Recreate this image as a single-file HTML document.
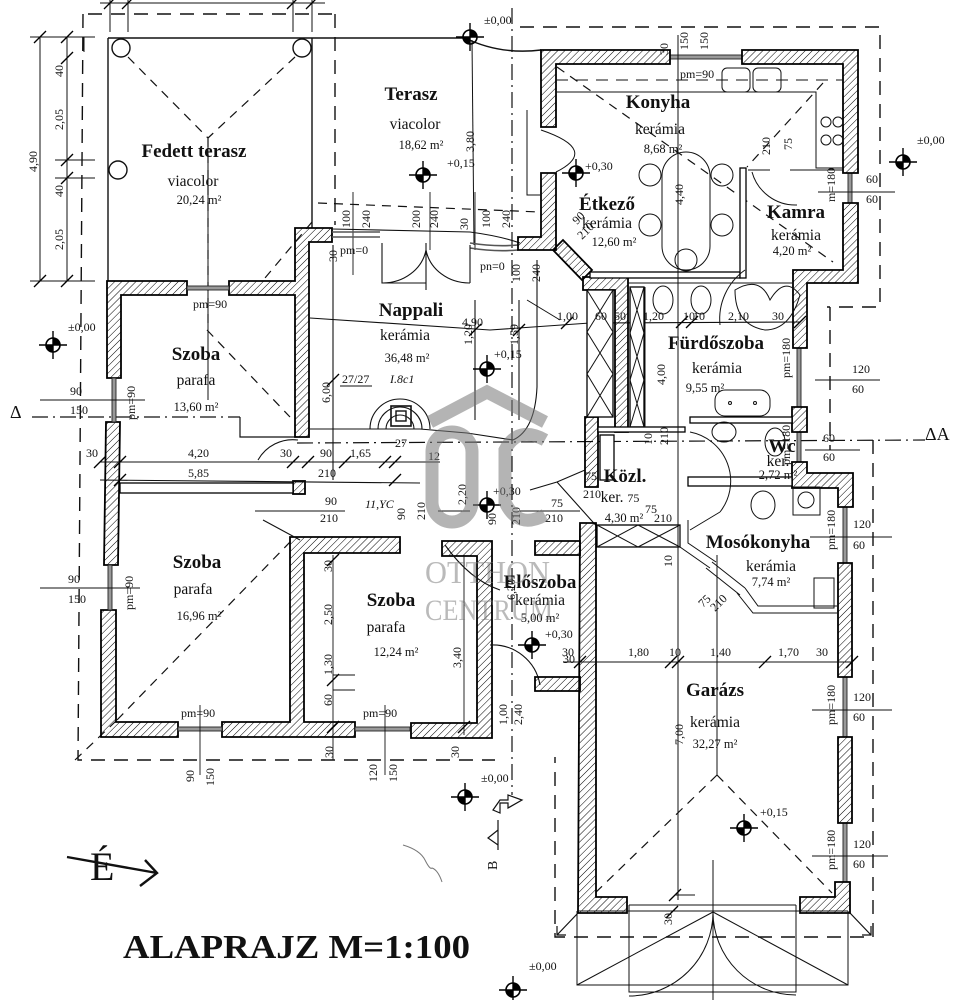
<!DOCTYPE html>
<html><head><meta charset="utf-8"><style>
html,body{margin:0;padding:0;background:#fff;}
svg{display:block;}
text{font-family:"Liberation Serif",serif;fill:#111;}
.rn{font-weight:bold;font-size:19px;text-anchor:middle;}
.mt{font-size:15.5px;text-anchor:middle;}
.ar{font-size:12.5px;text-anchor:middle;}
.d{font-size:12px;}
.dm{font-size:12px;text-anchor:middle;}
</style></head><body>
<svg width="972" height="1000" viewBox="0 0 972 1000" xmlns="http://www.w3.org/2000/svg">
<defs>
<pattern id="h" width="5" height="5" patternUnits="userSpaceOnUse" patternTransform="rotate(45)"><line x1="0" y1="0" x2="0" y2="5" stroke="#000" stroke-width="1"/></pattern>
<g id="em"><circle r="7" fill="none" stroke="#000" stroke-width="1.6"/><path d="M0,0 L0,-7 A7,7 0 0 1 7,0 Z M0,0 L0,7 A7,7 0 0 1 -7,0 Z" fill="#000"/><line x1="-14" y1="0" x2="14" y2="0" stroke="#000" stroke-width="1.4"/><line x1="0" y1="-14" x2="0" y2="14" stroke="#000" stroke-width="1.4"/></g>
<path id="tk" d="M-6,6 L6,-6" stroke="#000" stroke-width="1.3"/>
</defs>
<rect width="972" height="1000" fill="#fff"/>

<!-- dashed outlines -->
<g fill="none" stroke="#111" stroke-width="1.4" stroke-dasharray="14,9">
<path d="M88,14 L335,14 M83,14 L78,760 L495,760 M335,14 L335,225"/>
<path d="M520,27 L880,27 L880,307 L827,307 M830,307 L830,450 M873,440 L873,937 L555,937 L555,757"/>
</g>
<g fill="none" stroke="#111" stroke-width="1.2">
<path d="M578,913 L557,935 M557,926 L557,935 L566,935 M850,913 L871,935 M871,926 L871,935 L862,935"/>
</g>
<!-- dash-dot axes -->
<g fill="none" stroke="#111" stroke-width="1.2" stroke-dasharray="16,5,2,5">
<path d="M32,417 L240,417 M297,443 L925,440"/>
<path d="M512,8 L512,795"/>
</g>
<path d="M240,417 L240,437 L297,437" fill="none" stroke="#111" stroke-width="1.2"/>

<!-- top dim lines -->
<g stroke="#111" stroke-width="1" fill="none">
<path d="M100,3 L325,3 M110,0 L110,32 M128,0 L128,32 M293,0 L293,32 M312,0 L312,32"/>
<path d="M30,37 L95,37 M40,37 L40,281 M67,37 L67,281 M55,160 L95,160 M55,178 L95,178 M30,281 L95,281 M84,37 L84,52"/>
</g>
<use href="#tk" x="40" y="37"/><use href="#tk" x="67" y="37"/><use href="#tk" x="67" y="58"/><use href="#tk" x="67" y="160"/><use href="#tk" x="67" y="178"/><use href="#tk" x="40" y="281"/><use href="#tk" x="67" y="281"/>
<use href="#tk" x="110" y="3"/><use href="#tk" x="128" y="3"/><use href="#tk" x="293" y="3"/><use href="#tk" x="312" y="3"/>
<text class="d" transform="translate(37,172) rotate(-90)">4,90</text>
<text class="d" transform="translate(63,77) rotate(-90)">40</text>
<text class="d" transform="translate(63,130) rotate(-90)">2,05</text>
<text class="d" transform="translate(63,197) rotate(-90)">40</text>
<text class="d" transform="translate(63,250) rotate(-90)">2,05</text>

<!-- Fedett terasz -->
<g fill="none" stroke="#111" stroke-width="1.4">
<path d="M108,38 L465,38 Q500,55 541,50 M108,38 L108,281 M312,38 L312,228"/>
<circle cx="121" cy="48" r="9"/><circle cx="302" cy="48" r="9"/><circle cx="118" cy="170" r="9"/>
<path d="M472,40 L474,245" stroke-width="1"/>
</g>
<g fill="none" stroke="#111" stroke-width="1.2" stroke-dasharray="9,7">
<path d="M128,57 L208,138 L295,57 M208,138 L208,330 M312,222 L265,278 M207,330 L290,417"/>
<path d="M117,720 L292,540 M75,760 L117,720"/>
<path d="M557,67 L833,262 M823,83 L747,167"/>
<path d="M717,775 L593,895 M717,775 L832,893"/>
<path d="M318,203 L540,212"/>
</g>
<path d="M208,330 L208,400 M208,140 L208,330" stroke="#111" stroke-width="1"/>

<!-- Terasz labels -->
<text class="rn" x="194" y="157">Fedett terasz</text>
<text class="mt" x="193" y="186">viacolor</text>
<text class="ar" x="199" y="204">20,24 m²</text>
<text class="rn" x="411" y="100">Terasz</text>
<text class="mt" x="415" y="129">viacolor</text>
<text class="ar" x="421" y="149">18,62 m²</text>
<text class="d" x="447" y="167">+0,15</text>
<text class="d" transform="translate(474,152) rotate(-90)" fill="#444">3,80</text>

<!-- short vertical dims above nappali -->
<g class="d">
<text transform="translate(350,228) rotate(-90)">100</text><text transform="translate(370,228) rotate(-90)">240</text>
<text transform="translate(420,228) rotate(-90)">200</text><text transform="translate(438,228) rotate(-90)">240</text>
<text transform="translate(468,230) rotate(-90)">30</text><text transform="translate(490,228) rotate(-90)">100</text><text transform="translate(510,228) rotate(-90)">240</text>
<text transform="translate(337,262) rotate(-90)">30</text>
<text x="340" y="254">pm=0</text><text x="480" y="270">pn=0</text>
<text x="193" y="308">pm=90</text>
</g>
<path d="M353,192 L353,275 M430,192 L430,250 M475,192 L475,250" stroke="#111" stroke-width="0.9"/>

<!-- Walls left -->
<g fill="url(#h)" stroke="#000" stroke-width="1.8" stroke-linejoin="miter">
<path d="M107,281 L187,281 L187,295 L121,295 L121,378 L107,378 Z"/>
<path d="M229,281 L295,281 L295,228 L332,228 L332,242 L309,242 L309,437 L295,437 L295,295 L229,295 Z"/>
<path d="M106,422 L120,422 L118,565 L104,565 Z"/>
<path d="M101,610 L116,610 L116,722 L178,722 L178,737 L101,737 Z"/>
<path d="M222,722 L290,722 L290,537 L400,537 L400,553 L304,553 L304,722 L355,722 L355,737 L222,737 Z"/>
<path d="M442,541 L492,541 L492,738 L411,738 L411,723 L477,723 L477,556 L442,556 Z"/>
<rect x="293" y="481" width="12" height="13"/>
</g>
<rect x="120" y="483" width="173" height="10" fill="#fff" stroke="#000" stroke-width="1.3"/>
<!-- windows -->
<g fill="#999" stroke="#222" stroke-width="0.9">
<rect x="187" y="286" width="42" height="4"/><rect x="112" y="378" width="4" height="44"/>
<rect x="108" y="565" width="4" height="45"/><rect x="178" y="727" width="44" height="4"/>
<rect x="355" y="727" width="55" height="4"/>
<rect x="670" y="55" width="72" height="4"/><rect x="848" y="173" width="4" height="30"/>
<rect x="797" y="348" width="4" height="59"/><rect x="797" y="432" width="4" height="30"/>
<rect x="843" y="507" width="4" height="56"/><rect x="843" y="677" width="4" height="60"/><rect x="843" y="823" width="4" height="59"/>
</g>
<path d="M332,232 L380,232 M332,237 L380,237 M470,243 Q495,247 518,245 M470,248 Q495,252 518,250" stroke="#555" stroke-width="1.6" fill="none"/>

<!-- Nappali details -->
<g fill="none" stroke="#111" stroke-width="1.1">
<path d="M332,229 L470,232 Q500,236 520,243"/>
<path d="M382,243 L382,283 L426,283 M426,243 L426,290 M426,250 A44,40 0 0 1 382,283 M426,250 A44,40 0 0 0 470,283 M470,245 L470,283"/>
<path d="M537,260 L537,387 Q535,430 513,440"/>
<path d="M310,318 L490,330 L590,323 L800,322"/>
<path d="M310,429 L420,429 L467,433 L513,440"/>
<path d="M333,245 L333,480 M475,300 L475,420 M519,300 L519,420"/>
<path d="M100,462 L440,462 M100,480 L420,483"/>
<path d="M340,386 L372,386"/>
<path d="M370,429 A30,30 0 0 1 430,429 M378,429 A22,22 0 0 1 422,429 M386,429 A14,14 0 0 1 414,429"/>
<rect x="391" y="406" width="20" height="20" stroke-width="1.6"/><rect x="396" y="411" width="10" height="10" stroke-width="1.4"/>
<path d="M258,460 A40,40 0 0 1 298,440 M263,520 L300,540"/>
<path d="M445,545 Q470,580 500,590 M490,645 A48,48 0 0 1 540,685"/>
<path d="M530,490 L557,482 L585,470 M557,482 L600,530"/>
</g>
<use href="#tk" x="333" y="380"/><use href="#tk" x="475" y="330"/><use href="#tk" x="519" y="330"/>
<use href="#tk" x="100" y="462"/><use href="#tk" x="120" y="462"/><use href="#tk" x="293" y="462"/><use href="#tk" x="308" y="462"/><use href="#tk" x="345" y="462"/><use href="#tk" x="385" y="462"/><use href="#tk" x="395" y="462"/><use href="#tk" x="120" y="480"/><use href="#tk" x="395" y="480"/>
<text class="rn" x="411" y="316">Nappali</text>
<text class="mt" x="405" y="340">kerámia</text>
<text class="ar" x="407" y="362">36,48 m²</text>
<text class="d" x="462" y="326">4,90</text>
<text class="d" x="342" y="383">27/27</text>
<text class="d" x="390" y="383" fill="#444" font-style="italic">I.8c1</text>
<text class="d" transform="translate(330,403) rotate(-90)">6,00</text>
<text class="d" transform="translate(472,345) rotate(-90)">1,20</text>
<text class="d" transform="translate(518,345) rotate(-90)">1,59</text>
<text class="d" x="494" y="358">+0,15</text>
<g class="d">
<text x="86" y="457">30</text><text x="188" y="457">4,20</text><text x="280" y="457">30</text><text x="320" y="457">90</text><text x="350" y="457">1,65</text><text x="428" y="460">12</text><text x="395" y="447">27</text>
<text x="188" y="477">5,85</text><text x="318" y="477">210</text>
<text x="325" y="505">90</text><text x="320" y="522">210</text>
<text x="365" y="508" fill="#444" font-style="italic">11,YC</text>
<text transform="translate(405,520) rotate(-90)">90</text><text transform="translate(425,520) rotate(-90)">210</text>
<text transform="translate(466,505) rotate(-90)">2,20</text><text transform="translate(496,525) rotate(-90)">90</text><text transform="translate(520,525) rotate(-90)">210</text>
<text x="493" y="495">+0,30</text>
<text x="551" y="507">75</text><text x="545" y="522">210</text>
</g>
<path d="M40,400 L145,400 M40,588 L140,588 M255,511 L345,511 M438,511 L470,511 M520,511 L580,511" stroke="#111" stroke-width="0.9"/>

<!-- left annotations -->
<g class="d">
<text x="68" y="331">±0,00</text>
<text x="70" y="395">90</text><text x="70" y="414">150</text>
<text transform="translate(135,420) rotate(-90)">pm=90</text>
<text x="68" y="583">90</text><text x="68" y="603">150</text>
<text transform="translate(133,610) rotate(-90)">pm=90</text>
<text x="181" y="717">pm=90</text><text x="363" y="717">pm=90</text>
<text transform="translate(194,782) rotate(-90)">90</text><text transform="translate(214,786) rotate(-90)">150</text>
<text transform="translate(333,758) rotate(-90)">30</text>
<text transform="translate(377,782) rotate(-90)">120</text><text transform="translate(397,782) rotate(-90)">150</text>
<text transform="translate(459,758) rotate(-90)">30</text>
<text transform="translate(332,572) rotate(-90)">30</text>
<text transform="translate(332,625) rotate(-90)">2,50</text>
<text transform="translate(332,675) rotate(-90)">1,30</text>
<text transform="translate(332,706) rotate(-90)">60</text>
<text transform="translate(461,668) rotate(-90)">3,40</text>
</g>
<path d="M200,705 L200,775 M385,705 L385,775 M333,555 L333,760 M464,555 L464,735 M333,675 L355,675 M333,690 L355,690" stroke="#111" stroke-width="0.9"/>
<use href="#tk" x="333" y="560"/><use href="#tk" x="333" y="680"/><use href="#tk" x="333" y="727"/><use href="#tk" x="464" y="727"/>
<text x="10" y="418" font-size="18">Δ</text>

<!-- left rooms labels -->
<text class="rn" x="196" y="360">Szoba</text>
<text class="mt" x="196" y="385">parafa</text>
<text class="ar" x="196" y="411">13,60 m²</text>
<text class="rn" x="197" y="568">Szoba</text>
<text class="mt" x="193" y="594">parafa</text>
<text class="ar" x="199" y="620">16,96 m²</text>
<text class="rn" x="391" y="606">Szoba</text>
<text class="mt" x="386" y="632">parafa</text>
<text class="ar" x="396" y="656">12,24 m²</text>

<!-- Right block walls -->
<g fill="url(#h)" stroke="#000" stroke-width="1.8">
<path d="M541,50 L670,50 L670,64 L556,64 L556,127 L541,127 Z"/>
<path d="M742,50 L858,50 L858,173 L843,173 L843,64 L742,64 Z"/>
<path d="M843,203 L858,203 L858,283 L807,283 L807,348 L793,348 L793,270 L843,270 Z"/>
<path d="M541,173 L556,173 L556,250 L518,250 L518,237 L541,237 Z"/>
<path d="M583,277 L628,277 L628,432 L615,432 L615,290 L583,290 Z"/>
<path d="M585,417 L598,417 L598,487 L585,487 Z"/>
<path d="M580,523 L596,523 L596,897 L627,897 L627,913 L578,913 Z"/>
<path d="M535,541 L580,541 L580,555 L535,555 Z"/>
<path d="M535,677 L580,677 L580,691 L535,691 Z"/>
<path d="M835,882 L850,882 L850,913 L800,913 L800,897 L835,897 Z"/>
<path d="M838,737 L852,737 L852,823 L838,823 Z"/>
<path d="M838,563 L852,563 L852,677 L838,677 Z"/>
<path d="M792,462 L807,462 L807,473 L853,473 L853,507 L838,507 L838,488 L792,488 Z"/>
<path d="M792,407 L807,407 L807,432 L792,432 Z"/>
<path d="M553,250 L563,240 L592,270 L582,280 Z"/>
</g>
<g fill="#fff" stroke="#000" stroke-width="1.3">
<rect x="590" y="272" width="150" height="6"/>
<rect x="740" y="168" width="6" height="110"/>
<rect x="690" y="417" width="102" height="6"/>
<rect x="688" y="477" width="104" height="9"/>
<rect x="587" y="290" width="26" height="127"/>
<rect x="630" y="287" width="14" height="140"/>
<rect x="598" y="427" width="87" height="5"/>
<rect x="597" y="525" width="83" height="22"/>
<rect x="600" y="435" width="14" height="45"/>
</g>
<g stroke="#111" stroke-width="1" fill="none">
<path d="M587,290 L613,332 M613,290 L587,332 M587,332 L613,374 M613,332 L587,374 M587,374 L613,417 M613,374 L587,417"/>
<path d="M630,287 L644,333 M644,287 L630,333 M630,333 L644,380 M644,333 L630,380 M630,380 L644,427 M644,380 L630,427"/>
<path d="M597,525 L638,547 M638,525 L597,547 M638,525 L680,547 M680,525 L638,547"/>
<path d="M645,287 L645,427 M628,283 L793,283"/>
<path d="M680,525 L680,547 L710,568 M688,520 L688,543 L716,562 M737,593 L753,613 L837,613 M745,588 L758,606 L837,606"/>
<path d="M706,568 L740,595 M712,562 L745,588"/>
<path d="M541,130 Q600,150 556,172 M527,110 L527,195 L541,195"/>
<path d="M556,80 L843,80" stroke-dasharray="12,8"/>
<path d="M556,92 L816,92 L816,168 L843,168 M748,170 L770,170 M790,170 L843,170 M752,172 A45,45 0 0 0 797,205"/>
<rect x="722" y="68" width="28" height="24" rx="5"/><rect x="753" y="68" width="28" height="24" rx="5"/>
<circle cx="826" cy="122" r="5"/><circle cx="838" cy="122" r="5"/><circle cx="826" cy="140" r="5"/><circle cx="838" cy="140" r="5"/>
<rect x="662" y="152" width="48" height="118" rx="24"/>
<circle cx="650" cy="175" r="11"/><circle cx="722" cy="175" r="11"/><circle cx="650" cy="225" r="11"/><circle cx="722" cy="225" r="11"/><circle cx="686" cy="260" r="11"/>
<ellipse cx="663" cy="300" rx="10" ry="14"/><ellipse cx="701" cy="300" rx="10" ry="14"/>
<path d="M735,290 Q760,275 770,300 Q785,275 800,295 Q790,330 765,330 Q735,325 735,290 Z"/>
<path d="M720,325 A60,60 0 0 1 745,270"/>
<rect x="715" y="390" width="55" height="26" rx="10"/><circle cx="730" cy="403" r="1.5"/><circle cx="755" cy="403" r="1.5"/>
<ellipse cx="724" cy="432" rx="12" ry="10"/><ellipse cx="775" cy="442" rx="10" ry="14"/>
<ellipse cx="763" cy="505" rx="12" ry="14"/>
<rect x="793" y="487" width="27" height="28"/><circle cx="806" cy="500" r="8"/>
<rect x="814" y="578" width="20" height="30"/>
<path d="M690,432 A50,50 0 0 1 720,512 M690,530 L720,512"/>
<path d="M678,35 L678,900 M717,555 L717,775"/>
<path d="M563,662 L852,662"/>
<!-- garage door -->
<path d="M577,911 L577,985 L848,985 L848,911 M577,911 L848,911"/>
<path d="M629,905 L629,992 L796,992 L796,905 M629,905 L796,905"/>
<path d="M713,860 L713,1000"/>
<path d="M713,912 L577,985 M713,912 L848,985"/>
<path d="M713,912 A84,84 0 0 1 629,996 M713,912 A83,83 0 0 0 796,995"/>
<path d="M527,300 L560,320"/>
</g>
<use href="#tk" x="580" y="662"/><use href="#tk" x="671" y="662"/><use href="#tk" x="678" y="662"/><use href="#tk" x="765" y="662"/><use href="#tk" x="852" y="662"/><use href="#tk" x="675" y="895"/><use href="#tk" x="672" y="912"/>
<use href="#tk" x="567" y="323"/><use href="#tk" x="682" y="322"/><use href="#tk" x="692" y="322"/><use href="#tk" x="800" y="322"/>

<!-- right labels -->
<text class="rn" x="658" y="108">Konyha</text>
<text class="mt" x="660" y="134">kerámia</text>
<text class="ar" x="663" y="153">8,68 m²</text>
<text class="rn" x="607" y="210">Étkező</text>
<text class="mt" x="607" y="228">kerámia</text>
<text class="ar" x="614" y="246">12,60 m²</text>
<text class="rn" x="796" y="218">Kamra</text>
<text class="mt" x="796" y="240">kerámia</text>
<text class="ar" x="792" y="255">4,20 m²</text>
<text class="rn" x="716" y="349">Fürdőszoba</text>
<text class="mt" x="717" y="373">kerámia</text>
<text class="ar" x="705" y="392">9,55 m²</text>
<text class="rn" x="782" y="452">Wc</text>
<text class="mt" x="778" y="466" font-size="13">ker.</text>
<text class="ar" x="778" y="479">2,72 m²</text>
<text class="rn" x="625" y="482">Közl.</text>
<text class="mt" x="620" y="502">ker. <tspan font-size="12">75</tspan></text>
<text class="ar" x="624" y="522">4,30 m²</text>
<text class="rn" x="758" y="548">Mosókonyha</text>
<text class="mt" x="771" y="571">kerámia</text>
<text class="ar" x="771" y="586">7,74 m²</text>
<text class="rn" x="540" y="588">Előszoba</text>
<text class="mt" x="540" y="605">kerámia</text>
<text class="ar" x="540" y="622">5,00 m²</text>
<text class="d" x="545" y="638">+0,30</text>
<text class="rn" x="715" y="696">Garázs</text>
<text class="mt" x="715" y="727">kerámia</text>
<text class="ar" x="715" y="748">32,27 m²</text>
<text class="d" x="760" y="816">+0,15</text>

<g class="d">
<text x="585" y="170">+0,30</text>
<text transform="translate(683,205) rotate(-90)">4,40</text>
<text transform="translate(683,745) rotate(-90)">7,00</text>
<text transform="translate(770,155) rotate(-90)">210</text><text transform="translate(792,150) rotate(-90)">75</text>
<text transform="translate(577,225) rotate(-45)">90</text><text transform="translate(582,240) rotate(-45)">210</text>
<text transform="translate(540,282) rotate(-90)">240</text><text transform="translate(520,282) rotate(-90)">100</text>
<text transform="translate(688,50) rotate(-90)">150</text><text transform="translate(708,50) rotate(-90)">150</text><text transform="translate(668,55) rotate(-90)">30</text>
<text x="680" y="78">pm=90</text>
<text x="557" y="320">1,00</text><text x="595" y="320">60</text><text x="614" y="320">50</text><text x="643" y="320">1,20</text><text x="683" y="320">10</text><text x="693" y="320">10</text><text x="728" y="320">2,10</text><text x="772" y="320">30</text>
<text transform="translate(665,385) rotate(-90)">4,00</text>
<text transform="translate(652,445) rotate(-90)">10</text><text transform="translate(668,445) rotate(-90)">210</text>
<text x="585" y="480">75</text><text x="583" y="498">210</text>
<text x="645" y="513">75</text><text x="654" y="522">210</text>
<text transform="translate(672,567) rotate(-90)">10</text>
<text transform="translate(703,608) rotate(-45)">75</text><text transform="translate(715,612) rotate(-45)">210</text>
<text x="562" y="656">30</text><text x="628" y="656">1,80</text><text x="669" y="656">10</text><text x="710" y="656">1,40</text><text x="778" y="656">1,70</text><text x="816" y="656">30</text>
<text transform="translate(672,925) rotate(-90)">30</text>
<text transform="translate(515,600) rotate(-90)">6,20</text>
<text transform="translate(507,725) rotate(-90)">1,00</text><text transform="translate(522,725) rotate(-90)">2,40</text>
<text x="563" y="663">30</text>
<text transform="translate(790,378) rotate(-90)">pm=180</text>
<text transform="translate(790,465) rotate(-90)">pm=180</text>
<text transform="translate(835,202) rotate(-90)">m=180</text>
<text transform="translate(835,550) rotate(-90)">pm=180</text>
<text transform="translate(835,725) rotate(-90)">pm=180</text>
<text transform="translate(835,870) rotate(-90)">pm=180</text>
<text x="866" y="183">60</text><text x="866" y="203">60</text>
<text x="852" y="373">120</text><text x="852" y="393">60</text>
<text x="823" y="442">60</text><text x="823" y="461">60</text>
<text x="853" y="528">120</text><text x="853" y="549">60</text>
<text x="853" y="701">120</text><text x="853" y="721">60</text>
<text x="853" y="848">120</text><text x="853" y="868">60</text>
<text x="917" y="144">±0,00</text>
<text x="484" y="24">±0,00</text>
<text x="481" y="782">±0,00</text>
<text x="529" y="970">±0,00</text>
</g>
<path d="M818,192 L895,192 M815,380 L880,380 M805,450 L860,450 M810,537 L892,537 M812,710 L892,710 M812,856 L888,856 M675,895 L695,895" stroke="#111" stroke-width="0.9"/>
<text x="925" y="440" font-size="18">ΔA</text>

<!-- elevation markers -->
<use href="#em" x="470" y="37"/><use href="#em" x="423" y="175"/><use href="#em" x="576" y="173"/>
<use href="#em" x="903" y="162"/><use href="#em" x="53" y="345"/><use href="#em" x="487" y="369"/>
<use href="#em" x="487" y="505"/><use href="#em" x="532" y="645"/><use href="#em" x="465" y="797"/>
<use href="#em" x="744" y="828"/><use href="#em" x="513" y="990"/>

<!-- B section / entrance -->
<path d="M493,810 L500,800 L508,800 L508,795 L522,800 L508,808 L508,803 L500,803 L500,813 Z" fill="none" stroke="#111" stroke-width="1.2"/>
<path d="M498,845 L498,830 L488,838 Z M498,820 L498,850" fill="none" stroke="#111" stroke-width="1.2"/>
<text transform="translate(497,870) rotate(-90)" font-size="14">B</text>
<path d="M403,845 Q420,850 425,860 Q430,870 432,868 Q438,870 442,882" fill="none" stroke="#777" stroke-width="1"/>

<!-- watermark -->
<g opacity="0.55" fill="none" stroke="#777" stroke-width="13" stroke-linecap="butt">
<path d="M430,422 L487,392 L545,422"/>
<rect x="432" y="432" width="40" height="90" rx="20"/>
<path d="M545,440 Q518,425 505,450 L505,502 Q518,530 545,515"/>
</g>
<g opacity="0.5" fill="#777">
<text x="425" y="583" font-family="Liberation Sans, sans-serif" font-size="32" textLength="125" lengthAdjust="spacingAndGlyphs" style="fill:#777">OTTHON</text>
<text x="425" y="620" font-family="Liberation Sans, sans-serif" font-size="30" textLength="128" lengthAdjust="spacingAndGlyphs" style="fill:#777">CENTRUM</text>
</g>

<!-- North arrow and title -->
<path d="M67,857 L157,873 M145,860 L157,873 L140,886" fill="none" stroke="#111" stroke-width="2.4"/>
<text x="90" y="880" font-size="40">É</text>
<text x="123" y="958" font-size="34" font-weight="bold" textLength="347" lengthAdjust="spacingAndGlyphs">ALAPRAJZ  M=1:100</text>
</svg>
</body></html>
